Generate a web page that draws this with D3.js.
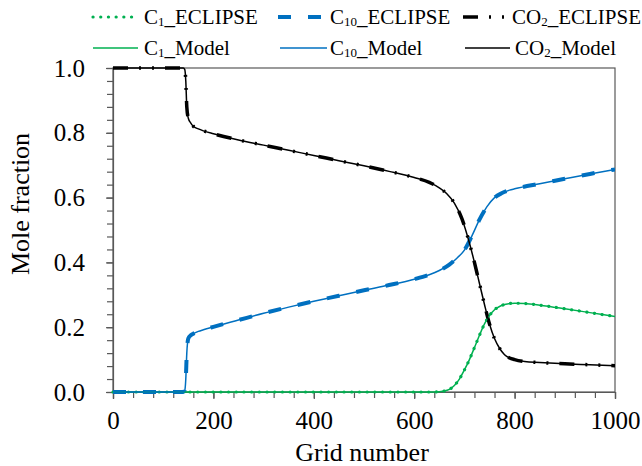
<!DOCTYPE html>
<html>
<head>
<meta charset="utf-8">
<script src="https://cdn.jsdelivr.net/npm/d3@7"></script>
<style>
  body { margin: 0; background: #fff; }
  svg text { font-family: "Liberation Serif", "Times New Roman", Times, "DejaVu Serif", serif; fill: #000; }
</style>
</head>
<body>
<div id="chart"></div>
<script>
/* data */
var gridCO2 = [0, 140, 143, 145, 147, 150, 155, 160, 170, 180, 200, 250, 300, 350, 400, 450, 500, 550, 600, 630, 650, 665, 680, 695, 710, 720, 730, 740, 750, 760, 770, 780, 790, 800, 820, 850, 900, 950, 1000];
var valCO2 = [1.0, 1.0, 0.995, 0.96, 0.88, 0.845, 0.83, 0.82, 0.812, 0.806, 0.797, 0.778, 0.762, 0.746, 0.730, 0.714, 0.698, 0.681, 0.662, 0.647, 0.630, 0.612, 0.583, 0.535, 0.46, 0.40, 0.335, 0.27, 0.21, 0.165, 0.135, 0.115, 0.105, 0.10, 0.094, 0.091, 0.087, 0.084, 0.081];

var gridC10 = [0, 140, 143, 145, 147, 150, 155, 160, 170, 180, 200, 250, 300, 350, 400, 450, 500, 550, 600, 630, 650, 670, 685, 700, 715, 730, 745, 760, 775, 790, 800, 850, 900, 950, 1000];
var valC10 = [0, 0, 0.005, 0.04, 0.12, 0.165, 0.175, 0.18, 0.187, 0.192, 0.201, 0.222, 0.243, 0.262, 0.28, 0.297, 0.314, 0.33, 0.348, 0.362, 0.375, 0.393, 0.413, 0.438, 0.482, 0.532, 0.572, 0.6, 0.614, 0.623, 0.627, 0.643, 0.658, 0.673, 0.687];

var gridC1 = [0, 640, 660, 670, 680, 690, 700, 710, 720, 730, 740, 750, 760, 770, 780, 800, 820, 850, 900, 950, 1000];
var valC1 = [0, 0, 0.003, 0.008, 0.02, 0.04, 0.068, 0.10, 0.137, 0.175, 0.21, 0.236, 0.254, 0.264, 0.27, 0.274, 0.273, 0.268, 0.257, 0.245, 0.233];

/* ECLIPSE results sit on top of the model curves */
var eclipseC1 = valC1, eclipseC10 = valC10, eclipseCO2 = valCO2;

var xTicks = [0, 200, 400, 600, 800, 1000];
var yTicks = [0, 0.2, 0.4, 0.6, 0.8, 1.0];

var chart = {
  width: 642,
  height: 466,
  top: 68,
  right: 27,
  bottom: 74,
  left: 113,
}

var serif = "'Liberation Serif', 'Times New Roman', Times, 'DejaVu Serif', serif";
var colors = { C1: "#00b050", C10: "#0070c0", CO2: "#000000" };

var series = [
  { name: ["C", "1", "_ECLIPSE"], grid: gridC1, vals: eclipseC1, color: colors.C1, width: 3.2, dash: "0.1,7.6", cap: "round" },
  { name: ["C", "10", "_ECLIPSE"], grid: gridC10, vals: eclipseC10, color: colors.C10, width: 4, dash: "13,17", cap: "butt" },
  { name: ["CO", "2", "_ECLIPSE"], grid: gridCO2, vals: eclipseCO2, color: colors.CO2, width: 3.5, dash: "15,11,2,11,2,11", cap: "butt" },
  { name: ["C", "1", "_Model"], grid: gridC1, vals: valC1, color: colors.C1, width: 1.5, dash: null, cap: "butt" },
  { name: ["C", "10", "_Model"], grid: gridC10, vals: valC10, color: colors.C10, width: 1.5, dash: null, cap: "butt" },
  { name: ["CO", "2", "_Model"], grid: gridCO2, vals: valCO2, color: colors.CO2, width: 1.5, dash: null, cap: "butt" },
];

var w = chart.width - chart.left - chart.right;
var h = chart.height - chart.top - chart.bottom;

var svg = d3.select("#chart")
  .append("svg")
  .attr("width", chart.width)
  .attr("height", chart.height);

var g = svg.append("g")
  .attr("transform", "translate(" + chart.left + "," + chart.top + ")");

var x = d3.scaleLinear().domain([0, 1000]).range([0, w]);
var y = d3.scaleLinear().domain([0, 1]).range([h, 0]);

/* minor ticks */
g.append("g")
  .attr("transform", "translate(0," + h + ")")
  .call(d3.axisBottom(x).tickValues(d3.range(0, 1001, 40)).tickSize(6).tickFormat(""))
  .call((a) => a.select(".domain").remove());
g.append("g")
  .call(d3.axisLeft(y).tickValues(d3.range(0, 1.001, 0.04)).tickSize(6).tickFormat(""))
  .call((a) => a.select(".domain").remove());

/* major axes */
var xAxis = g.append("g")
  .attr("transform", "translate(0," + h + ")")
  .call(d3.axisBottom(x).tickValues(xTicks).tickSize(7).tickPadding(12).tickFormat(d3.format("d")));
var yAxis = g.append("g")
  .call(d3.axisLeft(y).tickValues(yTicks).tickSize(7).tickPadding(21).tickFormat(d3.format(".1f")));

[xAxis, yAxis].forEach((a) => {
  a.attr("font-family", serif).attr("font-size", 25);
});
g.selectAll(".tick line").attr("stroke", "#595959").attr("stroke-width", 1.2);
g.selectAll(".domain").attr("stroke", "#595959").attr("stroke-width", 1.2);

/* plot frame */
g.append("rect")
  .attr("width", w)
  .attr("height", h)
  .attr("fill", "none")
  .attr("stroke", "#595959")
  .attr("stroke-width", 1.2);

/* curves */
g.append("clipPath").attr("id", "clip")
  .append("rect").attr("x", -3).attr("y", -3).attr("width", w + 3).attr("height", h + 6);

var line = d3.line().curve(d3.curveMonotoneX);
var plot = g.append("g").attr("clip-path", "url(#clip)");

plot.selectAll("path")
  .data(series)
  .enter()
  .append("path")
  .attr("d", (s) => line(s.grid.map((p, i) => [x(p), y(s.vals[i])])))
  .style("fill", "none")
  .style("stroke", (s) => s.color)
  .style("stroke-width", (s) => s.width)
  .style("stroke-dasharray", (s) => s.dash)
  .style("stroke-linecap", (s) => s.cap);

/* axis titles */
svg.append("text")
  .attr("x", 362)
  .attr("y", 461)
  .attr("text-anchor", "middle")
  .attr("font-family", serif)
  .attr("font-size", 26)
  .text("Grid number");

svg.append("text")
  .attr("transform", "translate(29,204) rotate(-90)")
  .attr("text-anchor", "middle")
  .attr("font-family", serif)
  .attr("font-size", 26)
  .text("Mole fraction");

/* legend */
var legendPos = [
  { x0: 93, x1: 138, tx: 144, y: 17 },
  { x0: 278, x1: 328, tx: 330, y: 17 },
  { x0: 463, x1: 512, tx: 512, y: 17 },
  { x0: 93, x1: 138, tx: 144, y: 48 },
  { x0: 280, x1: 327, tx: 330, y: 48 },
  { x0: 465, x1: 510, tx: 515, y: 48 },
];

var legend = svg.append("g").attr("font-family", serif);
series.forEach((s, i) => {
  var p = legendPos[i];
  legend.append("line")
    .attr("x1", p.x0).attr("x2", p.x1)
    .attr("y1", p.y).attr("y2", p.y)
    .style("stroke", s.color)
    .style("stroke-width", s.width)
    .style("stroke-dasharray", s.dash)
    .style("stroke-linecap", s.cap);
  var t = legend.append("text")
    .attr("x", p.tx)
    .attr("y", p.y + 7)
    .attr("font-size", 21);
  t.append("tspan").text(s.name[0]);
  t.append("tspan").attr("dy", 2).attr("font-size", 13).text(s.name[1]);
  t.append("tspan").attr("dy", -2).text(s.name[2]);
});
</script>
</body>
</html>
